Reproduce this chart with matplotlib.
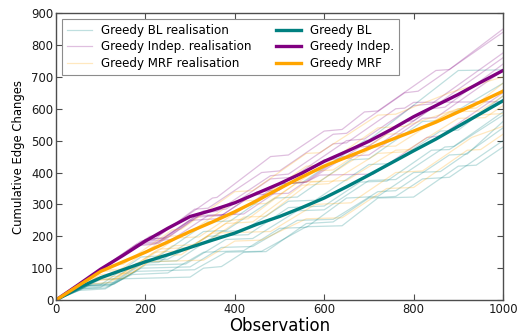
import matplotlib
matplotlib.use("Agg")
import matplotlib.pyplot as plt

# Averaged cumulative edge changes, sampled every 50 observations
obs_grid = [0, 50, 100, 150, 200, 250, 300, 350, 400, 450, 500,
            550, 600, 650, 700, 750, 800, 850, 900, 950, 1000]
mean_bl = [0, 38, 70, 95, 120, 142, 165, 188, 210, 238, 262,
           290, 320, 355, 392, 430, 468, 505, 545, 585, 625]
mean_indep = [0, 48, 97, 140, 185, 225, 262, 282, 305, 335, 365,
              398, 435, 466, 498, 535, 575, 610, 645, 683, 720]
mean_mrf = [0, 45, 90, 120, 150, 182, 215, 245, 277, 312, 350,
            386, 420, 448, 476, 503, 530, 558, 590, 622, 655]

# Individual runs, as (observation, cumulative changes) breakpoints
bl_realisations = [
    [(0, 0), (60, 45), (100, 48), (190, 135), (230, 138), (340, 245), (390, 248),
     (510, 365), (550, 368), (690, 500), (700, 502), (900, 720), (1000, 722)],
    [(0, 0), (50, 35), (100, 40), (180, 115), (230, 118), (330, 215), (380, 218),
     (490, 320), (540, 323), (660, 440), (700, 443), (820, 560), (860, 563), (1000, 680)],
    [(0, 0), (60, 40), (120, 45), (200, 120), (270, 123), (370, 215), (420, 218),
     (520, 310), (580, 313), (700, 425), (750, 428), (860, 530), (900, 533), (1000, 640)],
    [(0, 0), (70, 45), (130, 50), (200, 110), (290, 113), (380, 190), (440, 193),
     (540, 280), (600, 283), (700, 375), (760, 378), (870, 480), (890, 482), (1000, 590)],
    [(0, 0), (50, 30), (110, 35), (190, 100), (300, 104), (370, 165), (440, 168),
     (540, 250), (620, 253), (720, 340), (760, 343), (880, 455), (920, 458), (1000, 560)],
    [(0, 0), (50, 30), (100, 65), (300, 72), (330, 100), (370, 105), (420, 150),
     (470, 152), (560, 240), (620, 245), (700, 320), (760, 325), (820, 380), (880, 385),
     (1000, 500)],
    [(0, 0), (80, 50), (130, 55), (180, 90), (310, 95), (380, 150), (460, 153),
     (560, 230), (640, 233), (720, 320), (800, 323), (900, 420), (940, 423), (1000, 480)],
    [(0, 0), (60, 35), (110, 38), (170, 80), (250, 85), (330, 150), (420, 155),
     (500, 225), (560, 228), (650, 320), (720, 325), (800, 400), (860, 403), (960, 500),
     (1000, 540)],
    [(0, 0), (70, 45), (120, 48), (200, 125), (250, 128), (340, 200), (430, 205),
     (520, 290), (600, 295), (680, 370), (740, 373), (840, 470), (880, 472), (1000, 580)],
]

indep_realisations = [
    [(0, 0), (210, 200), (230, 203), (350, 320), (360, 322), (480, 450), (520, 455),
     (600, 530), (640, 535), (690, 590), (720, 593), (850, 720), (880, 723), (1000, 850)],
    [(0, 0), (190, 185), (220, 190), (310, 285), (340, 288), (460, 400), (500, 405),
     (620, 520), (650, 523), (780, 650), (810, 655), (1000, 840)],
    [(0, 0), (200, 190), (240, 195), (330, 280), (380, 285), (480, 380), (530, 385),
     (650, 500), (690, 505), (800, 610), (840, 615), (1000, 775)],
    [(0, 0), (180, 170), (220, 175), (300, 250), (360, 255), (450, 340), (500, 345),
     (600, 440), (660, 445), (780, 560), (800, 562), (1000, 760)],
    [(0, 0), (200, 185), (260, 190), (340, 265), (420, 270), (520, 365), (560, 370),
     (680, 480), (720, 485), (840, 600), (870, 605), (1000, 740)],
    [(0, 0), (190, 180), (230, 182), (310, 260), (370, 265), (440, 330), (520, 335),
     (640, 450), (700, 455), (820, 570), (850, 572), (1000, 720)],
    [(0, 0), (200, 190), (250, 195), (320, 265), (400, 270), (500, 365), (560, 370),
     (590, 392), (710, 395), (830, 510), (860, 515), (1000, 650)],
    [(0, 0), (180, 175), (230, 178), (330, 275), (360, 278), (480, 390), (520, 395),
     (620, 490), (650, 493), (760, 600), (780, 602), (800, 620), (1000, 622)],
]

mrf_realisations = [
    [(0, 0), (120, 110), (150, 112), (260, 220), (280, 222), (400, 340), (440, 343),
     (560, 460), (590, 462), (720, 580), (760, 583), (880, 650), (1000, 700)],
    [(0, 0), (100, 90), (140, 92), (250, 200), (290, 203), (400, 310), (450, 313),
     (560, 420), (600, 423), (720, 540), (780, 545), (900, 600), (930, 602), (1000, 680)],
    [(0, 0), (110, 95), (170, 98), (270, 195), (320, 198), (430, 300), (470, 303),
     (580, 405), (620, 408), (740, 520), (790, 523), (900, 600), (940, 602), (1000, 660)],
    [(0, 0), (90, 70), (140, 75), (220, 150), (290, 155), (390, 250), (430, 255),
     (540, 370), (590, 373), (710, 480), (760, 483), (880, 590), (950, 593), (1000, 640)],
    [(0, 0), (80, 60), (130, 65), (230, 160), (300, 165), (380, 240), (440, 245),
     (550, 360), (610, 365), (720, 460), (780, 465), (900, 570), (960, 572), (1000, 610)],
    [(0, 0), (100, 80), (170, 85), (260, 170), (330, 175), (420, 260), (470, 263),
     (570, 370), (650, 375), (760, 470), (810, 473), (940, 580), (1000, 585)],
    [(0, 0), (70, 50), (120, 55), (200, 120), (330, 125), (400, 185), (460, 188),
     (560, 255), (640, 258), (740, 350), (800, 353), (920, 470), (950, 472), (1000, 520)],
    [(0, 0), (90, 65), (150, 68), (230, 140), (280, 142), (350, 210), (480, 215),
     (580, 300), (660, 305), (760, 400), (820, 405), (930, 510), (1000, 545)],
]

methods = [
    ("Greedy BL", "teal", bl_realisations, mean_bl),
    ("Greedy Indep.", "purple", indep_realisations, mean_indep),
    ("Greedy MRF", "orange", mrf_realisations, mean_mrf),
]

plt.rcParams["font.family"] = ["DejaVu Sans"]

fig = plt.figure(figsize=(5.2, 3.36), dpi=100)
ax = fig.add_axes([0.1077, 0.107, 0.8596, 0.854])

real_handles = []
for name, color, runs, _ in methods:
    for i, run in enumerate(runs):
        xs = [p[0] for p in run]
        ys = [p[1] for p in run]
        h, = ax.plot(xs, ys, color=color, alpha=0.25, lw=0.9,
                     label=name + " realisation" if i == 0 else None)
        if i == 0:
            real_handles.append(h)

mean_handles = []
for name, color, _, mean in methods:
    h, = ax.plot(obs_grid, mean, color=color, lw=2.4, label=name)
    mean_handles.append(h)

ax.set_xlim(0, 1000)
ax.set_ylim(0, 900)
ax.set_xticks(range(0, 1001, 200))
ax.set_yticks(range(0, 901, 100))

spine_color = "0.3"
for s in ax.spines.values():
    s.set_color(spine_color)
    s.set_linewidth(1.0)
ax.tick_params(direction="in", top=True, right=True, length=4, width=0.8,
               color=spine_color, labelsize=8.4, labelcolor="0.1", pad=2)

ax.set_xlabel("Observation", fontsize=12, labelpad=1)
ax.set_ylabel("Cumulative Edge Changes", fontsize=8.4, labelpad=4)

handles = real_handles + mean_handles
leg = ax.legend(handles=handles, labels=[h.get_label() for h in handles],
                loc="upper left", ncol=2, fontsize=8.6, fancybox=False,
                frameon=True, edgecolor="0.55", framealpha=1.0,
                handlelength=2.1, columnspacing=2.0, labelspacing=0.3,
                borderpad=0.4, handletextpad=0.8, borderaxespad=0.5)
leg.get_frame().set_linewidth(0.8)

fig.savefig("out.png", dpi=100)
